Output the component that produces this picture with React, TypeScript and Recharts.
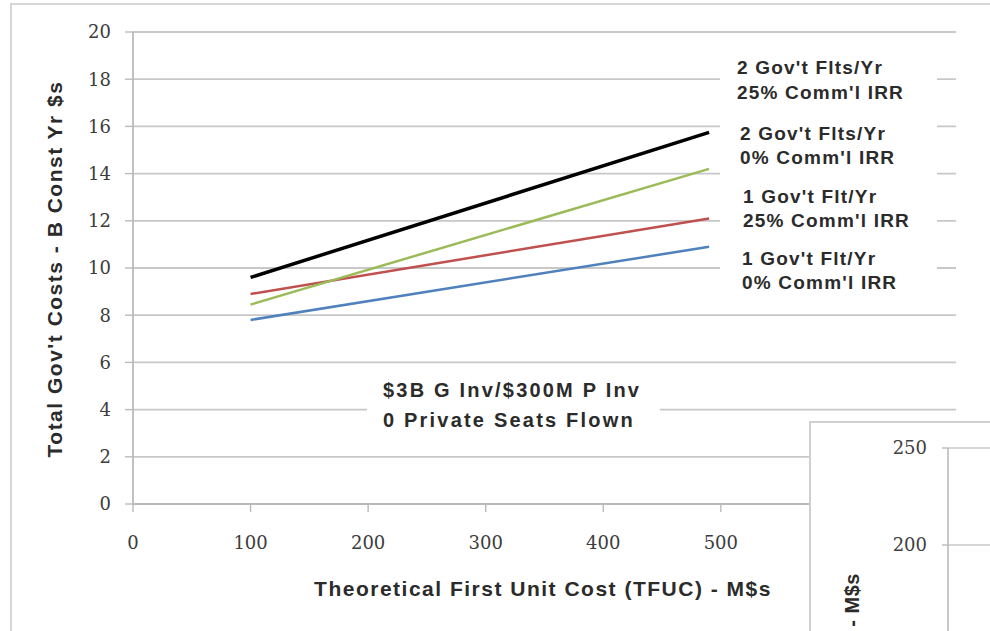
import React from "react";
import { LineChart, Line, XAxis, YAxis, CartesianGrid } from "recharts";

// ---- Data ----
const tfuc = [100, 490]; // Theoretical First Unit Cost, M$s
const oneFlt0 = [7.8, 10.9]; // 1 Gov't Flt/Yr, 0% Comm'l IRR
const oneFlt25 = [8.9, 12.1]; // 1 Gov't Flt/Yr, 25% Comm'l IRR
const twoFlts0 = [8.45, 14.2]; // 2 Gov't Flts/Yr, 0% Comm'l IRR
const twoFlts25 = [9.6, 15.75]; // 2 Gov't Flts/Yr, 25% Comm'l IRR

const xTicks = [0, 100, 200, 300, 400, 500, 600, 700];
const yTicks = [0, 2, 4, 6, 8, 10, 12, 14, 16, 18, 20];
const insetTicks = [200, 250]; // only the visible ticks of the covered chart
const insetX = [0, 100];
const insetValues: (number | null)[] = [null, null]; // series of the covered chart lies off-picture

const seriesLabels = [
  ["2 Gov't Flts/Yr", "25% Comm'l IRR"],
  ["2 Gov't Flts/Yr", "0% Comm'l IRR"],
  ["1 Gov't Flt/Yr", "25% Comm'l IRR"],
  ["1 Gov't Flt/Yr", "0% Comm'l IRR"],
];
const scenarioLabel = ["$3B G Inv/$300M P Inv", "0 Private Seats Flown"];
const xTitle = "Theoretical First Unit Cost (TFUC) - M$s";
const yTitle = "Total Gov't Costs - B Const Yr $s";
const insetTitle = "- M$s";

const data = tfuc.map((x, i) => ({
  x,
  oneFlt0: oneFlt0[i],
  oneFlt25: oneFlt25[i],
  twoFlts0: twoFlts0[i],
  twoFlts25: twoFlts25[i],
}));
const insetData = insetX.map((t, i) => ({ t, v: insetValues[i] }));

const GRID = "#c8c8c8";
const AXIS = "#bababa";
const TICK_FONT = { fill: "#3c3c3c", fontSize: 18, fontFamily: "DejaVu Serif" };
const SANS = "Liberation Sans, Arial, sans-serif";
const TEXT = "#2b2b2b";

const labelPos = [
  { x: 737, y1: 67, y2: 92 },
  { x: 740, y1: 133, y2: 157 },
  { x: 743, y1: 196, y2: 220 },
  { x: 742, y1: 258, y2: 282 },
];

export default function App() {
  return (
    <div
      style={{
        position: "absolute",
        left: 0,
        top: 0,
        width: 990,
        height: 631,
        overflow: "hidden",
        background: "#fff",
      }}
    >
      {/* outer frame */}
      <div
        style={{
          position: "absolute",
          left: 10,
          top: 3,
          width: 990,
          height: 626,
          borderLeft: "2px solid #d6d6d6",
          borderTop: "2px solid #d6d6d6",
          borderBottom: "2px solid #d6d6d6",
        }}
      />
      <div style={{ position: "absolute", left: 0, top: 0 }}>
        <LineChart
          width={990}
          height={631}
          data={data}
          margin={{ top: 32, right: 34, bottom: 67, left: 0 }}
        >
          <CartesianGrid vertical={false} stroke={GRID} strokeWidth={1.8} />
          <XAxis
            dataKey="x"
            type="number"
            domain={[0, 700]}
            ticks={xTicks}
            interval={0}
            height={60}
            axisLine={{ stroke: AXIS, strokeWidth: 1.8 }}
            tickLine={{ stroke: AXIS, strokeWidth: 1.4 }}
            tickSize={8}
            tickMargin={24}
            tick={TICK_FONT}
          />
          <YAxis
            type="number"
            domain={[0, 20]}
            ticks={yTicks}
            interval={0}
            width={133}
            axisLine={{ stroke: AXIS, strokeWidth: 1.8 }}
            tickLine={{ stroke: AXIS, strokeWidth: 1.4 }}
            tickSize={8}
            tickMargin={14}
            tick={TICK_FONT}
          />
          <Line type="linear" dataKey="oneFlt0" stroke="#4F81BD" strokeWidth={2.5} dot={false} isAnimationActive={false} />
          <Line type="linear" dataKey="oneFlt25" stroke="#C0504D" strokeWidth={2.5} dot={false} isAnimationActive={false} />
          <Line type="linear" dataKey="twoFlts0" stroke="#9BBB59" strokeWidth={2.5} dot={false} isAnimationActive={false} />
          <Line type="linear" dataKey="twoFlts25" stroke="#000000" strokeWidth={3.5} dot={false} isAnimationActive={false} />
        </LineChart>
      </div>

      {/* annotations */}
      <svg
        width={990}
        height={631}
        style={{ position: "absolute", left: 0, top: 0, pointerEvents: "none" }}
      >
        <rect x={720} y={46} width={217} height={250} fill="#fff" />
        <rect x={367} y={372} width={293} height={66} fill="#fff" />
        {seriesLabels.map((l, i) => (
          <g key={i} fontFamily={SANS} fontWeight="bold" fontSize={19} fill={TEXT} letterSpacing={1.2}>
            <text x={labelPos[i].x} y={labelPos[i].y1} dominantBaseline="central">
              {l[0]}
            </text>
            <text x={labelPos[i].x} y={labelPos[i].y2} dominantBaseline="central">
              {l[1]}
            </text>
          </g>
        ))}
        <g fontFamily={SANS} fontWeight="bold" fontSize={20} fill={TEXT} letterSpacing={2.2}>
          <text x={383} y={390} dominantBaseline="central">
            {scenarioLabel[0]}
          </text>
          <text x={383} y={420} dominantBaseline="central">
            {scenarioLabel[1]}
          </text>
        </g>
        <text
          x={543}
          y={588}
          textAnchor="middle"
          dominantBaseline="central"
          fontFamily={SANS}
          fontWeight="bold"
          fontSize={21}
          letterSpacing={1.5}
          fill={TEXT}
        >
          {xTitle}
        </text>
        <text
          x={0}
          y={0}
          transform="translate(54 269) rotate(-90)"
          textAnchor="middle"
          dominantBaseline="central"
          fontFamily={SANS}
          fontWeight="bold"
          fontSize={21}
          letterSpacing={1.5}
          fill={TEXT}
        >
          {yTitle}
        </text>
      </svg>

      {/* overlapping inset chart */}
      <div
        style={{
          position: "absolute",
          left: 809,
          top: 421,
          width: 200,
          height: 230,
          boxSizing: "border-box",
          borderLeft: "2px solid #d0d0d0",
          borderTop: "2px solid #d0d0d0",
          background: "#fff",
          overflow: "hidden",
        }}
      >
        <div style={{ position: "absolute", left: 0, top: 0 }}>
          <LineChart
            width={400}
            height={560}
            data={insetData}
            margin={{ top: 25, right: 20, bottom: 50, left: 0 }}
          >
            <CartesianGrid vertical={false} stroke={GRID} strokeWidth={1.6} />
            <XAxis dataKey="t" type="number" domain={[0, 100]} hide />
            <YAxis
              type="number"
              domain={[0, 250]}
              ticks={insetTicks}
              interval={0}
              allowDataOverflow
              width={137}
              axisLine={{ stroke: AXIS, strokeWidth: 1.6 }}
              tickLine={{ stroke: AXIS, strokeWidth: 1.4 }}
              tickSize={6}
              tickMargin={15}
              tick={{ ...TICK_FONT, fill: "#404040" }}
            />
            <Line type="linear" dataKey="v" stroke="#4F81BD" dot={false} isAnimationActive={false} />
          </LineChart>
        </div>
        <svg width={200} height={230} style={{ position: "absolute", left: 0, top: 0 }}>
          <text
            x={0}
            y={0}
            transform="translate(41 150) rotate(-90)"
            textAnchor="end"
            dominantBaseline="central"
            fontFamily={SANS}
            fontWeight="bold"
            fontSize={20}
            letterSpacing={0.5}
            fill={TEXT}
          >
            {insetTitle}
          </text>
        </svg>
      </div>
    </div>
  );
}
